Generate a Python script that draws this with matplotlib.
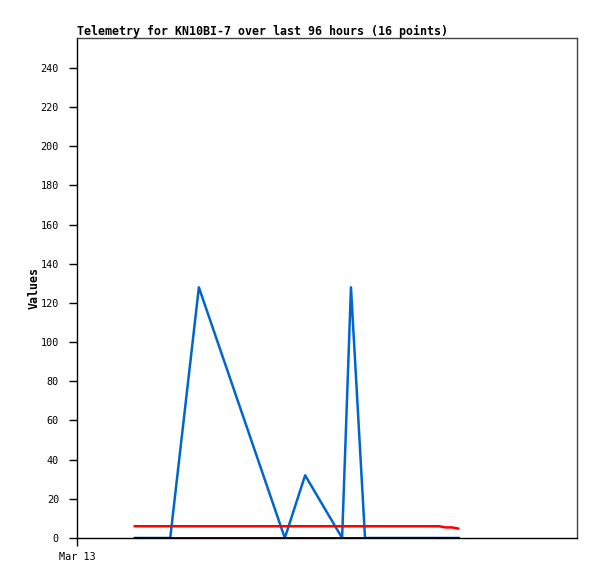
import matplotlib
matplotlib.use("Agg")
import matplotlib.pyplot as plt

# Hours since Mar 13 00:00
hours = [11.1, 14.0, 17.9, 23.4, 39.9, 43.8, 50.9, 52.6, 55.3, 59.1, 63.0, 66.8, 69.5, 70.8, 72.0, 73.2]
series_blue = [0, 0, 0, 128, 0, 32, 0, 128, 0, 0, 0, 0, 0, 0, 0, 0]
series_red = [6, 6, 6, 6, 6, 6, 6, 6, 6, 6, 6, 6, 6, 5.4, 5.4, 4.8]
series_black = [0] * 16
x_ticks = [0]
x_tick_labels = ["Mar 13"]
y_ticks = [0, 20, 40, 60, 80, 100, 120, 140, 160, 180, 200, 220, 240]
title = "Telemetry for KN10BI-7 over last 96 hours (16 points)"

fig = plt.figure(figsize=(5.97, 5.79), dpi=100)
ax = fig.add_axes([77/597, 41/579, 500/597, 500/579])

ax.plot(hours, series_blue, color="#0066CC", lw=1.8, zorder=2)
ax.plot(hours, series_red, color="#FF0000", lw=1.8, zorder=3)
ax.plot(hours, series_black, color="#000000", lw=2.0, zorder=4)

ax.set_xlim(0, 96)
ax.set_ylim(0, 255.3)
ax.set_yticks(y_ticks)
ax.set_xticks(x_ticks)
ax.set_xticklabels(x_tick_labels)

mono = "DejaVu Sans Mono"
for lab in ax.get_yticklabels() + ax.get_xticklabels():
    lab.set_family(mono)
    lab.set_fontsize(7.3)
ax.tick_params(axis="y", direction="out", length=6, width=1, color="black", pad=7)
ax.tick_params(axis="x", direction="out", length=6, width=1, color="black", pad=4)

ax.spines["left"].set_color("black")
ax.spines["bottom"].set_color("black")
ax.spines["top"].set_color("#444444")
ax.spines["right"].set_color("#444444")
for s in ax.spines.values():
    s.set_linewidth(1)

ax.set_ylabel("Values", family=mono, fontweight="bold", fontsize=8.4, labelpad=0)
fig.text(77/597, 1 - 31/579, title, family=mono, fontweight="bold", fontsize=8.35,
         ha="left", va="center")

fig.savefig("out.png", dpi=100)
